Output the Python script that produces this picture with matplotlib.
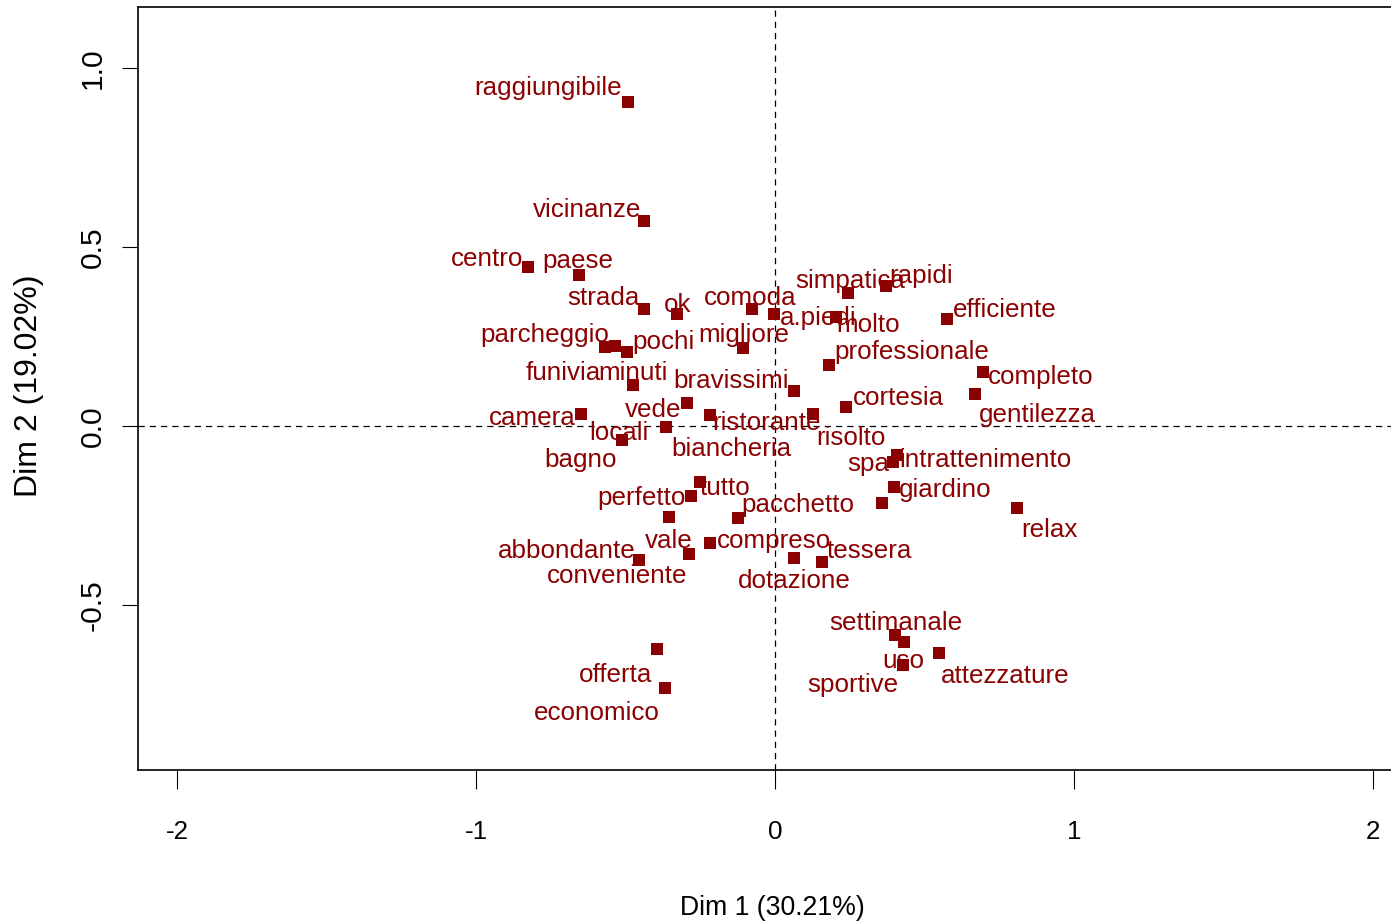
import matplotlib
matplotlib.use("Agg")
import matplotlib.pyplot as plt

plt.rcParams["font.family"] = ["Liberation Sans", "DejaVu Sans"]
plt.rcParams["axes.unicode_minus"] = False

# Column (word) coordinates on the first two CA dimensions
words = [
    "raggiungibile", "vicinanze", "centro", "paese", "strada", "ok", "comoda",
    "a.piedi", "molto", "simpatica", "rapidi", "efficiente", "funivia",
    "parcheggio", "pochi", "migliore", "professionale", "minuti", "bravissimi",
    "completo", "gentilezza", "cortesia", "vede", "ristorante", "risolto",
    "camera", "locali", "bagno", "intrattenimento", "spa", "giardino",
    "pacchetto", "relax", "dotazione", "tessera", "tutto", "perfetto", "vale",
    "biancheria", "compreso", "conveniente", "abbondante", "offerta",
    "economico", "settimanale", "uso", "sportive", "attezzature",
]
dim1 = [
    -0.493, -0.437, -0.828, -0.656, -0.437, -0.327, -0.076,
    -0.004, 0.204, 0.243, 0.371, 0.577, -0.569,
    -0.535, -0.494, -0.106, 0.181, -0.474, 0.065,
    0.695, 0.669, 0.239, -0.296, -0.218, 0.126,
    -0.650, -0.365, -0.513, 0.407, 0.396, 0.399,
    0.357, 0.811, 0.064, 0.156, -0.251, -0.282, -0.354,
    -0.125, -0.218, -0.287, -0.454, -0.396,
    -0.368, 0.402, 0.432, 0.429, 0.550,
]
dim2 = [
    0.906, 0.573, 0.445, 0.422, 0.327, 0.313, 0.326,
    0.313, 0.304, 0.371, 0.391, 0.298, 0.221,
    0.223, 0.207, 0.217, 0.170, 0.115, 0.098,
    0.150, 0.089, 0.054, 0.065, 0.031, 0.033,
    0.033, -0.002, -0.039, -0.081, -0.100, -0.170,
    -0.216, -0.228, -0.370, -0.381, -0.156, -0.196, -0.255,
    -0.258, -0.326, -0.358, -0.374, -0.624,
    -0.731, -0.584, -0.603, -0.668, -0.635,
]
xlabel = "Dim 1 (30.21%)"
ylabel = "Dim 2 (19.02%)"
xticks = [-2, -1, 0, 1, 2]
yticks = [-0.5, 0.0, 0.5, 1.0]
yticklabels = ["-0.5", "0.0", "0.5", "1.0"]

# Label placement (pixel offsets of the text baseline centre from each point)
label_offsets = {
    "raggiungibile": (-79.7, 6.7), "vicinanze": (-57.8, 4), "centro": (-40.2, 0.7),
    "paese": (-1.5, 7), "strada": (-41.3, 4), "ok": (0.7, 2.3),
    "comoda": (-1.8, 4.3), "a.piedi": (44.8, -11), "molto": (32, -14.4),
    "simpatica": (2.3, 5), "rapidi": (35.5, 3.3), "efficiente": (57.7, 2),
    "funivia": (-42, -33), "parcheggio": (-70.3, 4.3), "pochi": (35.7, 2.7),
    "migliore": (0, 6.6), "professionale": (82.5, 5.7), "minuti": (-0.3, 5),
    "bravissimi": (-63.7, 3.3), "completo": (57.8, -11.7), "gentilezza": (62, -27.7),
    "cortesia": (51.7, 1.7), "vede": (-33, -14), "ristorante": (56.7, -15),
    "risolto": (38.3, -30.7), "camera": (-48.5, -10.7), "locali": (-46.8, -13.3),
    "bagno": (-40.9, -26.7), "intrattenimento": (89.1, -11.7), "spa": (-25, -9),
    "giardino": (50.5, -10), "pacchetto": (-83.4, -8.4), "relax": (31.9, -29.6),
    "dotazione": (-0.3, -30), "tessera": (47.5, 4), "tutto": (25.3, -13.3),
    "perfetto": (-49.5, -9), "vale": (-0.1, -31), "biancheria": (-6, 62.3),
    "compreso": (64.2, -5.6), "conveniente": (-72.6, -29), "abbondante": (-72.6, 1.7),
    "offerta": (-40.7, -32.4), "economico": (-68.5, -32.3), "settimanale": (0.5, 5),
    "uso": (-1, -26.6), "sportive": (-50.3, -26.7), "attezzature": (65.7, -30),
}

col = "#8B0000"
W, H = 1391, 924
fig = plt.figure(figsize=(W / 100, H / 100), dpi=100)

left_px, right_px, top_px, bottom_px = 138, 1395, 7, 770
ax = fig.add_axes([left_px / W, (H - bottom_px) / H,
                   (right_px - left_px) / W, (bottom_px - top_px) / H])
ax.set_xlim(-2.1319, 2.0750)
ax.set_ylim(-0.9609, 1.1704)

ax.axhline(0, color="black", lw=0.9, ls=(0, (5, 4)), zorder=1)
ax.axvline(0, color="black", lw=0.9, ls=(0, (5, 4)), zorder=1)

ax.plot(dim1, dim2, ls="none", marker="s", ms=8.8, mew=0, color=col, zorder=3)

for w, x, y in zip(words, dim1, dim2):
    dx, dy = label_offsets[w]
    ax.annotate(w, xy=(x, y), xytext=(dx, dy), textcoords="offset pixels",
                ha="center", va="baseline", color=col, fontsize=18.7, zorder=4)

for s in ax.spines.values():
    s.set_color("black")
    s.set_linewidth(1.2)

ax.set_xticks(xticks)
ax.set_xticklabels([str(t) for t in xticks])
ax.set_yticks(yticks)
ax.set_yticklabels(yticklabels, rotation=90, va="center")
ax.tick_params(axis="x", length=13.7, width=0.8, pad=22, labelsize=18.7,
               colors="black")
ax.tick_params(axis="y", length=11.5, width=0.8, pad=11, labelsize=21.6,
               colors="black")

fig.text(772 / W, (H - 915) / H, xlabel, ha="center", va="baseline",
         fontsize=19.2, color="black")
fig.text(29.5 / W, (H - 386) / H, ylabel, ha="center", va="center",
         rotation=90, fontsize=23, color="black")

fig.savefig("out.png", dpi=100)
